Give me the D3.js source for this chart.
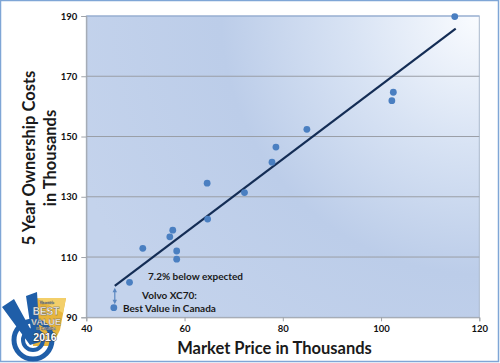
<!DOCTYPE html>
<html><head><meta charset="utf-8">
<script src="https://cdn.jsdelivr.net/npm/d3@7"></script>
<style>body{margin:0;background:#fff}svg{display:block}</style>
</head><body>
<svg id="c" width="500" height="363"></svg>
<script>
// ---- data ----
const marketPrice = [115.0, 102.5, 102.2, 84.9, 78.6, 77.8, 72.2, 64.6, 64.7, 57.6, 57.0, 58.4, 58.4, 51.5, 48.8, 45.6];
const ownershipCost = [189.8, 164.7, 161.9, 152.4, 146.5, 141.5, 131.4, 134.5, 122.6, 118.9, 116.7, 112.0, 109.3, 112.9, 101.6, 93.2];
const trendX = [45.8, 115.2];
const trendY = [100.4, 185.8];
const xTicks = [40, 60, 80, 100, 120];
const yTicks = [90, 110, 130, 150, 170, 190];
const labels = ["7.2% below expected", "Volvo XC70:", "Best Value in Canada"];
const xTitle = "Market Price in Thousands";
const yTitle = ["5 Year Ownership Costs", "in Thousands"];

const svg = d3.select("#c");
const W = 500, H = 363;
const m = {left: 86.3, right: 20.7, top: 16, bottom: 45.7};
const x = d3.scaleLinear().domain([40, 120]).range([m.left, W - m.right]);
const y = d3.scaleLinear().domain([90, 190]).range([H - m.bottom, m.top]);

const defs = svg.append("defs");
const g1 = defs.append("radialGradient").attr("id", "bg")
  .attr("gradientUnits", "userSpaceOnUse")
  .attr("cx", x(120)).attr("cy", y(190)).attr("r", 430);
g1.append("stop").attr("offset", "0").attr("stop-color", "#fafcff");
g1.append("stop").attr("offset", "0.3").attr("stop-color", "#d8e3f4");
g1.append("stop").attr("offset", "0.6").attr("stop-color", "#bccde9");
g1.append("stop").attr("offset", "1").attr("stop-color", "#c4d3ec");

// outer frame
svg.append("rect").attr("x", 0.5).attr("y", 0.5).attr("width", W - 2).attr("height", H - 2)
  .attr("fill", "#fff").attr("stroke", "#7fa6d6").attr("stroke-width", 1.5);

// plot area
svg.append("rect").attr("x", x(40)).attr("y", y(190)).attr("width", x(120) - x(40)).attr("height", y(90) - y(190))
  .attr("fill", "url(#bg)").attr("stroke", "#a9b8cc").attr("stroke-width", 1);
svg.append("line").attr("x1", x(40)).attr("x2", x(120)).attr("y1", y(190)).attr("y2", y(190))
  .attr("stroke", "#8eaad3").attr("stroke-width", 1.2);

// gridlines
svg.append("g").selectAll("line").data(yTicks.filter(d => d > 90 && d < 190)).join("line")
  .attr("x1", x(40)).attr("x2", x(120)).attr("y1", d => y(d)).attr("y2", d => y(d))
  .attr("stroke", "#9a9ea6").attr("stroke-width", 1);

// axes
const yAxis = svg.append("g").attr("transform", `translate(${x(40)},0)`)
  .call(d3.axisLeft(y).tickValues(yTicks).tickSize(5).tickPadding(4));
const xAxis = svg.append("g").attr("transform", `translate(0,${y(90)})`)
  .call(d3.axisBottom(x).tickValues(xTicks).tickSize(4).tickPadding(4));
[yAxis, xAxis].forEach(a => {
  a.select(".domain").attr("stroke", "#a0a4aa");
  a.selectAll(".tick line").attr("stroke", "#a0a4aa");
  a.selectAll("text").attr("font-family", "Lato, sans-serif").attr("font-weight", 700)
    .attr("font-size", 9.5).attr("fill", "#111");
});

// trendline
svg.append("line").attr("x1", x(trendX[0])).attr("y1", y(trendY[0]))
  .attr("x2", x(trendX[1])).attr("y2", y(trendY[1]))
  .attr("stroke", "#142d55").attr("stroke-width", 2.2);

// double arrow
const ax = x(trendX[0]);
svg.append("line").attr("x1", ax).attr("x2", ax).attr("y1", y(99.2)).attr("y2", y(95))
  .attr("stroke", "#5a86c0").attr("stroke-width", 1.2);
svg.append("path").attr("d", `M${ax - 2.2},${y(98.3)}L${ax},${y(99.8)}L${ax + 2.2},${y(98.3)}Z`).attr("fill", "#5a86c0");
svg.append("path").attr("d", `M${ax - 2.2},${y(95.8)}L${ax},${y(94.3)}L${ax + 2.2},${y(95.8)}Z`).attr("fill", "#5a86c0");

// points
svg.append("g").selectAll("circle").data(marketPrice.map((d, i) => [d, ownershipCost[i]])).join("circle")
  .attr("cx", d => x(d[0])).attr("cy", d => y(d[1])).attr("r", 3.4)
  .attr("fill", "#4a7fc1");

// annotations
const ann = svg.append("g").attr("font-family", "Lato, sans-serif").attr("font-weight", 700)
  .attr("font-size", 10).attr("fill", "#1a1a1a");
ann.append("text").attr("x", 148).attr("y", 280).text(labels[0]);
ann.append("text").attr("x", 142).attr("y", 299).text(labels[1]);
ann.append("text").attr("x", 123).attr("y", 311.5).text(labels[2]);

// titles
svg.append("text").attr("x", 274.5).attr("y", 353.5).attr("text-anchor", "middle")
  .attr("font-family", "Lato, sans-serif").attr("font-weight", 700).attr("font-size", 16.5)
  .attr("fill", "#1a1a1a").text(xTitle);
const yt = svg.append("text").attr("transform", "translate(0,158) rotate(-90)").attr("text-anchor", "middle")
  .attr("font-family", "Lato, sans-serif").attr("font-weight", 700).attr("font-size", 16.5).attr("fill", "#1a1a1a");
yt.append("tspan").attr("x", 0).attr("y", 35).text(yTitle[0]);
yt.append("tspan").attr("x", 0).attr("y", 56).text(yTitle[1]);

// logo
const lg = svg.append("g");
lg.append("path").attr("d", "M36,298 L66,298 L60,330 L52,346 L33,346 Z").attr("fill", "#e7b43c");
lg.append("path").attr("d", "M36,298 L66,298 L63,313 Z").attr("fill", "#f3cf6a");
lg.append("circle").attr("cx", 33).attr("cy", 340).attr("r", 19).attr("fill", "none").attr("stroke", "#1f5ea8").attr("stroke-width", 5);
lg.append("circle").attr("cx", 33).attr("cy", 340).attr("r", 10).attr("fill", "none").attr("stroke", "#1f5ea8").attr("stroke-width", 4);
lg.append("path").attr("d", "M2,307 L14,299 L31,330 L26,296 L37,292 L40,342 L30,345 Z").attr("fill", "#1f5ea8");
const lt = lg.append("g").attr("font-family", "Liberation Sans, Arial, sans-serif").attr("font-weight", 700)
  .attr("fill", "#fff").attr("stroke", "#555").attr("stroke-width", 0.3).attr("text-anchor", "middle");
lt.append("text").attr("x", 47).attr("y", 304).attr("font-size", 3).text("Vincentric");
lt.append("text").attr("x", 46).attr("y", 315).attr("font-size", 10).text("BEST");
lt.append("text").attr("x", 46).attr("y", 325).attr("font-size", 9).text("VALUE");
lt.append("text").attr("x", 46).attr("y", 330).attr("font-size", 3.5).text("IN CANADA");
lt.append("text").attr("x", 45).attr("y", 341).attr("font-size", 10.5).attr("stroke", "#333").attr("stroke-width", 0.8).attr("paint-order", "stroke").text("2016");
</script>
</body></html>
